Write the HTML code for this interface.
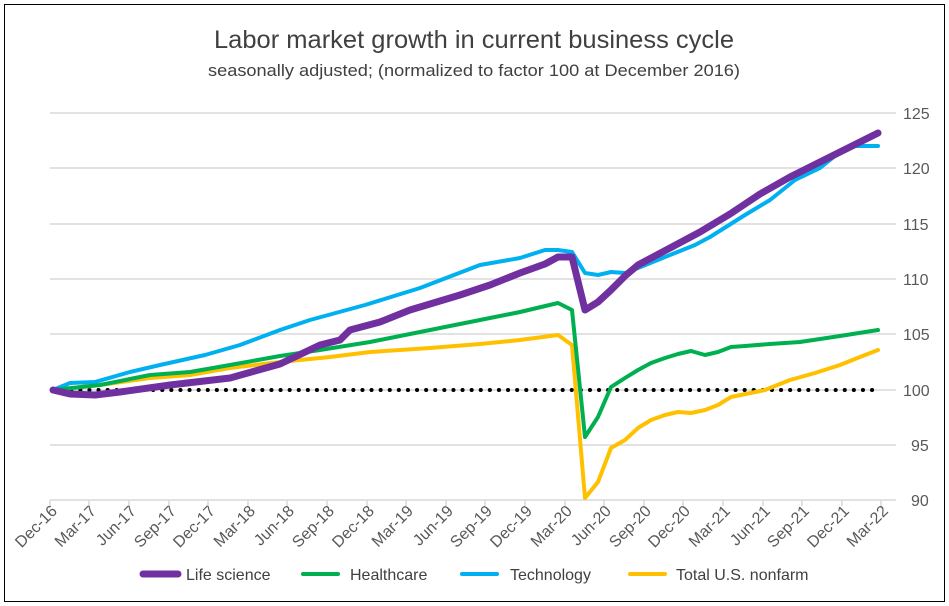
<!DOCTYPE html>
<html><head><meta charset="utf-8"><style>
body{margin:0;background:#fff;}
svg{display:block;font-family:"Liberation Sans",sans-serif;}
</style></head><body>
<svg width="949" height="606" viewBox="0 0 949 606">
<rect x="4.5" y="4.5" width="940" height="597" fill="#fff" stroke="#000" stroke-width="1"/>
<text x="474" y="48" text-anchor="middle" font-size="25" fill="#404040" textLength="520" lengthAdjust="spacingAndGlyphs">Labor market growth in current business cycle</text>
<text x="474" y="76" text-anchor="middle" font-size="17" fill="#404040" textLength="532" lengthAdjust="spacingAndGlyphs">seasonally adjusted; (normalized to factor 100 at December 2016)</text>
<g stroke="#d9d9d9" stroke-width="1.5">
<line x1="50" x2="896" y1="113" y2="113"/><line x1="50" x2="896" y1="168" y2="168"/>
<line x1="50" x2="896" y1="224" y2="224"/><line x1="50" x2="896" y1="279" y2="279"/>
<line x1="50" x2="896" y1="334" y2="334"/><line x1="50" x2="896" y1="390" y2="390"/>
<line x1="50" x2="896" y1="445" y2="445"/><line x1="50" x2="896" y1="500" y2="500"/>
</g>
<g font-size="16" fill="#595959">
<text x="903" y="119">125</text><text x="903" y="174">120</text><text x="903" y="230">115</text>
<text x="903" y="285">110</text><text x="903" y="340">105</text><text x="903" y="396">100</text>
<text x="911" y="451">95</text><text x="911" y="506">90</text>
</g>
<line x1="53" x2="877" y1="390" y2="390" stroke="#000" stroke-width="4" stroke-dasharray="0.1 9" stroke-linecap="round"/>
<g fill="none" stroke-linejoin="round" stroke-linecap="round">
<polyline stroke="#ffc000" stroke-width="4" points="53,390 100,385 150,378 190,375 230,368 280,362 330,357 370,352 430,348 480,344 520,340 558,335 572,345 585,498 598,482 611,448 625,440 638,428 651,420 665,415 678,412 691,413 705,410 718,405 731,397 765,390 790,380 815,373 840,365 860,357 878,350"/>
<polyline stroke="#00b0f0" stroke-width="4" points="53,390 70,383 95,382 130,372 160,365 205,355 240,345 280,330 310,320 365,305 420,288 480,265 520,258 545,250 558,250 572,252 585,273 598,275 611,272 625,273 638,268 670,255 695,245 710,237 745,215 770,200 795,180 820,168 835,156 855,146 878,146"/>
<polyline stroke="#00b050" stroke-width="4" points="53,390 100,385 150,375 190,372 230,365 280,356 320,350 370,342 430,330 480,320 520,312 558,303 572,310 585,437 598,417 611,387 625,378 638,370 651,363 665,358 678,354 691,351 705,355 718,352 731,347 745,346 770,344 800,342 840,336 878,330"/>
<polyline stroke="#7030a0" stroke-width="7" points="53,390 70,394 95,395 120,392 170,385 230,378 280,364 320,345 340,340 350,330 380,322 410,310 460,295 490,285 520,273 545,264 558,257 572,257 585,310 598,302 611,290 625,276 638,265 670,248 700,232 730,214 760,194 790,177 820,162 850,147 878,133"/>
</g>
<g font-size="16" fill="#404040">
<line x1="143" x2="178" y1="574" y2="574" stroke="#7030a0" stroke-width="7" stroke-linecap="round"/><text x="186" y="580">Life science</text>
<line x1="303" x2="338" y1="574" y2="574" stroke="#00b050" stroke-width="4" stroke-linecap="round"/><text x="350" y="580">Healthcare</text>
<line x1="462" x2="497" y1="574" y2="574" stroke="#00b0f0" stroke-width="4" stroke-linecap="round"/><text x="510" y="580">Technology</text>
<line x1="630" x2="665" y1="574" y2="574" stroke="#ffc000" stroke-width="4" stroke-linecap="round"/><text x="676" y="580">Total U.S. nonfarm</text>
</g>
<g font-size="16" fill="#595959">
<text transform="translate(58,512) rotate(-45)" text-anchor="end">Dec-16</text>
<text transform="translate(97,512) rotate(-45)" text-anchor="end">Mar-17</text>
<text transform="translate(137,512) rotate(-45)" text-anchor="end">Jun-17</text>
<text transform="translate(177,512) rotate(-45)" text-anchor="end">Sep-17</text>
<text transform="translate(216,512) rotate(-45)" text-anchor="end">Dec-17</text>
<text transform="translate(256,512) rotate(-45)" text-anchor="end">Mar-18</text>
<text transform="translate(295,512) rotate(-45)" text-anchor="end">Jun-18</text>
<text transform="translate(335,512) rotate(-45)" text-anchor="end">Sep-18</text>
<text transform="translate(375,512) rotate(-45)" text-anchor="end">Dec-18</text>
<text transform="translate(414,512) rotate(-45)" text-anchor="end">Mar-19</text>
<text transform="translate(454,512) rotate(-45)" text-anchor="end">Jun-19</text>
<text transform="translate(493,512) rotate(-45)" text-anchor="end">Sep-19</text>
<text transform="translate(533,512) rotate(-45)" text-anchor="end">Dec-19</text>
<text transform="translate(573,512) rotate(-45)" text-anchor="end">Mar-20</text>
<text transform="translate(612,512) rotate(-45)" text-anchor="end">Jun-20</text>
<text transform="translate(652,512) rotate(-45)" text-anchor="end">Sep-20</text>
<text transform="translate(691,512) rotate(-45)" text-anchor="end">Dec-20</text>
<text transform="translate(731,512) rotate(-45)" text-anchor="end">Mar-21</text>
<text transform="translate(771,512) rotate(-45)" text-anchor="end">Jun-21</text>
<text transform="translate(810,512) rotate(-45)" text-anchor="end">Sep-21</text>
<text transform="translate(850,512) rotate(-45)" text-anchor="end">Dec-21</text>
<text transform="translate(889,512) rotate(-45)" text-anchor="end">Mar-22</text>
</g>
<g stroke="#d9d9d9" stroke-width="1.5">
<line x1="50" x2="50" y1="500" y2="506"/><line x1="89" x2="89" y1="500" y2="506"/><line x1="129" x2="129" y1="500" y2="506"/><line x1="169" x2="169" y1="500" y2="506"/><line x1="208" x2="208" y1="500" y2="506"/><line x1="248" x2="248" y1="500" y2="506"/><line x1="287" x2="287" y1="500" y2="506"/><line x1="327" x2="327" y1="500" y2="506"/><line x1="367" x2="367" y1="500" y2="506"/><line x1="406" x2="406" y1="500" y2="506"/><line x1="446" x2="446" y1="500" y2="506"/><line x1="485" x2="485" y1="500" y2="506"/><line x1="525" x2="525" y1="500" y2="506"/><line x1="565" x2="565" y1="500" y2="506"/><line x1="604" x2="604" y1="500" y2="506"/><line x1="644" x2="644" y1="500" y2="506"/><line x1="683" x2="683" y1="500" y2="506"/><line x1="723" x2="723" y1="500" y2="506"/><line x1="763" x2="763" y1="500" y2="506"/><line x1="802" x2="802" y1="500" y2="506"/><line x1="842" x2="842" y1="500" y2="506"/><line x1="881" x2="881" y1="500" y2="506"/>
</g>
</svg>
</body></html>
